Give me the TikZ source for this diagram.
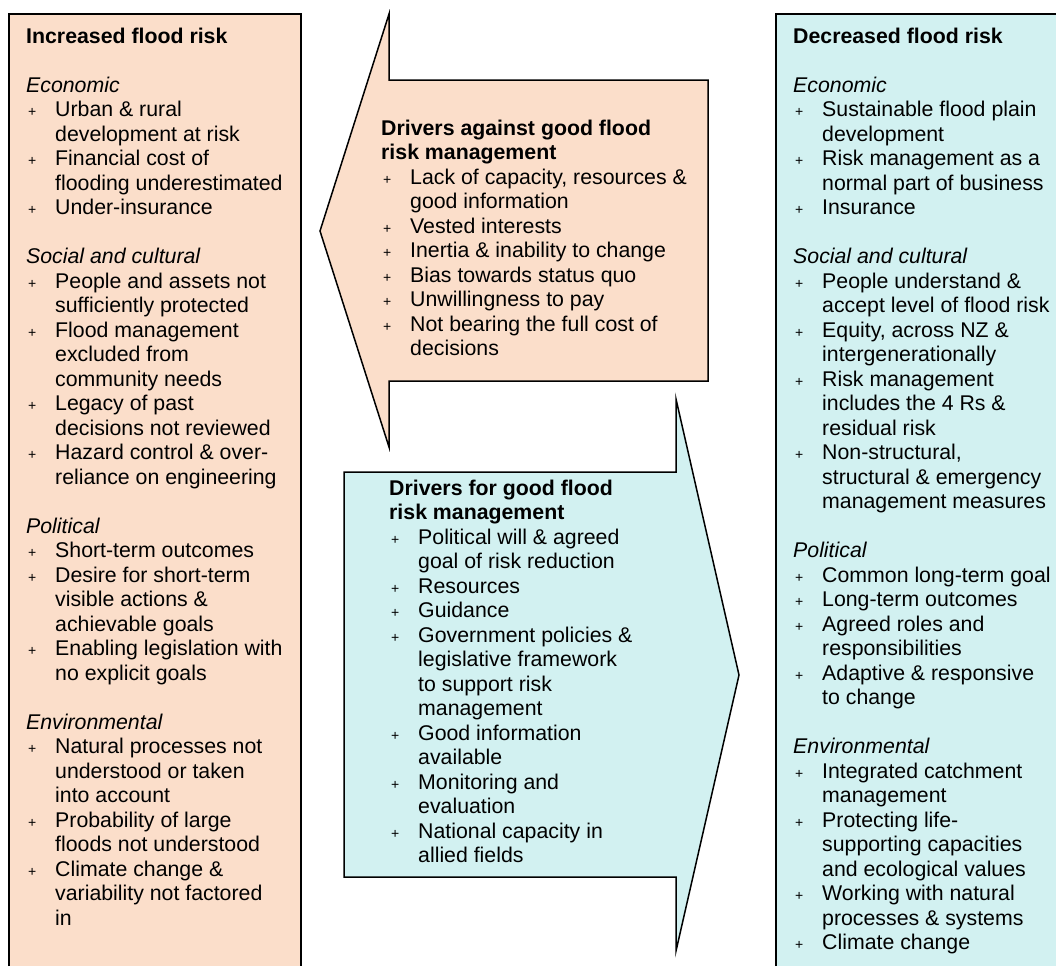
\documentclass[tikz,border=0pt]{standalone}
\usepackage{fontspec}
\setmainfont{Liberation Sans}

\definecolor{riskup}{RGB}{251,222,202}
\definecolor{riskdown}{RGB}{210,241,241}

\newcommand{\pitem}[1]{\makebox[29pt][l]{\hspace{2pt}\fontsize{14}{14}\selectfont +}#1}
\newcommand{\pcont}[1]{\hspace*{29pt}#1}
\newcommand{\lnstart}{\rule{0pt}{20pt}}

\tikzset{
  listtext/.style={anchor=north west, inner sep=0pt, align=left,
    font=\fontsize{21.3}{24.5}\selectfont},
  frame/.style={line width=1.5pt, black}
}

\begin{document}
\begin{tikzpicture}[x=1pt,y=-1pt]
        \useasboundingbox (0,0) rectangle (1056,966);

        \fill[riskup] (9,14) rectangle (301,966);
        \draw[frame] (9,966) -- (9,14) -- (301,14) -- (301,966);
        \fill[riskdown] (776,14) rectangle (1056,966);
        \draw[frame] (776,966) -- (776,14) -- (1056,14);

        \draw[frame, fill=riskup] (708,80) -- (389,80) -- (389,14) -- (320,231)
            -- (389,447) -- (389,381) -- (708,381) -- cycle;
        \draw[frame, fill=riskdown] (344,472) -- (676,472) -- (676,399) -- (739,675)
            -- (676,951) -- (676,877) -- (344,877) -- cycle;

        % first baselines sit 20pt below the node tops
        \node[listtext] (inc) at (26,23) {\lnstart\textbf{Increased flood risk}\\[24.5pt]
            \textit{Economic}\\
            \pitem{Urban \& rural}\\
            \pcont{development at risk}\\
            \pitem{Financial cost of}\\
            \pcont{flooding underestimated}\\
            \pitem{Under-insurance}\\[24.5pt]
            \textit{Social and cultural}\\
            \pitem{People and assets not}\\
            \pcont{sufficiently protected}\\
            \pitem{Flood management}\\
            \pcont{excluded from}\\
            \pcont{community needs}\\
            \pitem{Legacy of past}\\
            \pcont{decisions not reviewed}\\
            \pitem{Hazard control \& over-}\\
            \pcont{reliance on engineering}\\[24.5pt]
            \textit{Political}\\
            \pitem{Short-term outcomes}\\
            \pitem{Desire for short-term}\\
            \pcont{visible actions \&}\\
            \pcont{achievable goals}\\
            \pitem{Enabling legislation with}\\
            \pcont{no explicit goals}\\[24.5pt]
            \textit{Environmental}\\
            \pitem{Natural processes not}\\
            \pcont{understood or taken}\\
            \pcont{into account}\\
            \pitem{Probability of large}\\
            \pcont{floods not understood}\\
            \pitem{Climate change \&}\\
            \pcont{variability not factored}\\
            \pcont{in}};

        \node[listtext] (dec) at (793,23) {\lnstart\textbf{Decreased flood risk}\\[24.5pt]
            \textit{Economic}\\
            \pitem{Sustainable flood plain}\\
            \pcont{development}\\
            \pitem{Risk management as a}\\
            \pcont{normal part of business}\\
            \pitem{Insurance}\\[24.5pt]
            \textit{Social and cultural}\\
            \pitem{People understand \&}\\
            \pcont{accept level of flood risk}\\
            \pitem{Equity, across NZ \&}\\
            \pcont{intergenerationally}\\
            \pitem{Risk management}\\
            \pcont{includes the 4 Rs \&}\\
            \pcont{residual risk}\\
            \pitem{Non-structural,}\\
            \pcont{structural \& emergency}\\
            \pcont{management measures}\\[24.5pt]
            \textit{Political}\\
            \pitem{Common long-term goal}\\
            \pitem{Long-term outcomes}\\
            \pitem{Agreed roles and}\\
            \pcont{responsibilities}\\
            \pitem{Adaptive \& responsive}\\
            \pcont{to change}\\[24.5pt]
            \textit{Environmental}\\
            \pitem{Integrated catchment}\\
            \pcont{management}\\
            \pitem{Protecting life-}\\
            \pcont{supporting capacities}\\
            \pcont{and ecological values}\\
            \pitem{Working with natural}\\
            \pcont{processes \& systems}\\
            \pitem{Climate change}};

        \node[listtext] (against) at (381,115) {\lnstart\textbf{Drivers against good flood}\\
            \textbf{risk management}\\
            \pitem{Lack of capacity, resources \&}\\
            \pcont{good information}\\
            \pitem{Vested interests}\\
            \pitem{Inertia \& inability to change}\\
            \pitem{Bias towards status quo}\\
            \pitem{Unwillingness to pay}\\
            \pitem{Not bearing the full cost of}\\
            \pcont{decisions}};

        \node[listtext] (for) at (389,475) {\lnstart\textbf{Drivers for good flood}\\
            \textbf{risk management}\\
            \pitem{Political will \& agreed}\\
            \pcont{goal of risk reduction}\\
            \pitem{Resources}\\
            \pitem{Guidance}\\
            \pitem{Government policies \&}\\
            \pcont{legislative framework}\\
            \pcont{to support risk}\\
            \pcont{management}\\
            \pitem{Good information}\\
            \pcont{available}\\
            \pitem{Monitoring and}\\
            \pcont{evaluation}\\
            \pitem{National capacity in}\\
            \pcont{allied fields}};
    \end{tikzpicture}
\end{document}
